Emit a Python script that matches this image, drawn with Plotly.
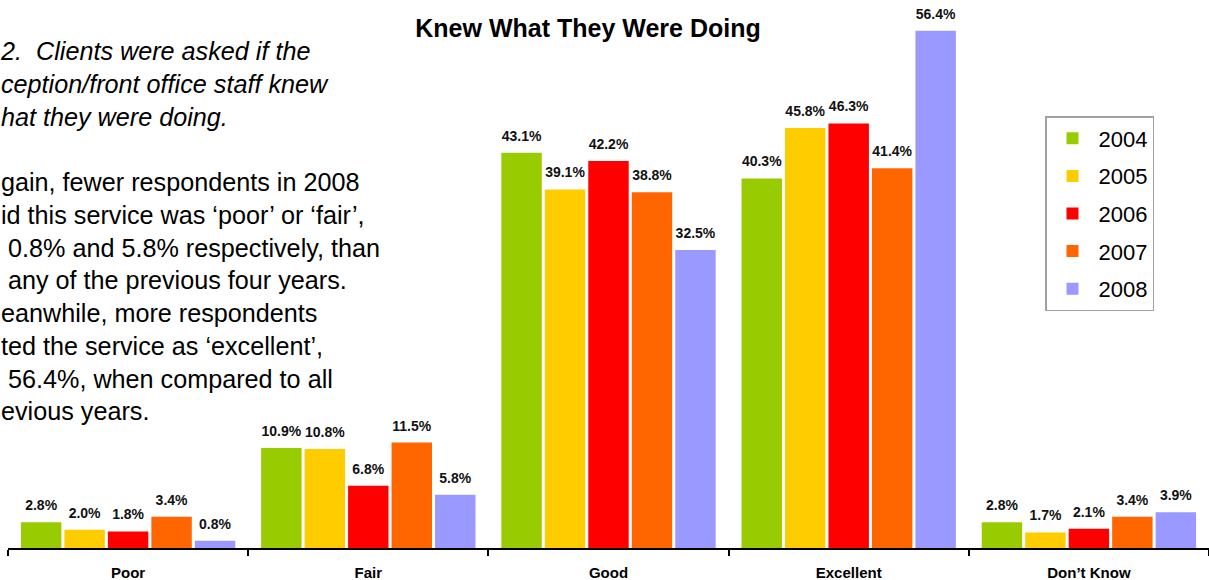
import plotly.graph_objects as go

# Survey ratings for "knew what they were doing", percent of respondents
categories = ["Poor", "Fair", "Good", "Excellent", "Don’t Know"]
years = ["2004", "2005", "2006", "2007", "2008"]
pct_2004 = [2.8, 10.9, 43.1, 40.3, 2.8]
pct_2005 = [2.0, 10.8, 39.1, 45.8, 1.7]
pct_2006 = [1.8, 6.8, 42.2, 46.3, 2.1]
pct_2007 = [3.4, 11.5, 38.8, 41.4, 3.4]
pct_2008 = [0.8, 5.8, 32.5, 56.4, 3.9]
series = [pct_2004, pct_2005, pct_2006, pct_2007, pct_2008]
colors = ["#99CC00", "#FFCC00", "#FF0000", "#FF6600", "#9999FF"]

body_lines = [
    "<i>2.  Clients were asked if the</i>",
    "<i>ception/front office staff knew</i>",
    "<i>hat they were doing.</i>",
    "",
    "gain, fewer respondents in 2008",
    "id this service was ‘poor’ or ‘fair’,",
    "\u00a00.8% and 5.8% respectively, than",
    "\u00a0any of the previous four years.",
    "eanwhile, more respondents",
    "ted the service as ‘excellent’,",
    "\u00a056.4%, when compared to all",
    "evious years.",
]

FONT = "Arial, Liberation Sans, sans-serif"
W, H = 1209, 580
ML, MR, MT, MB = 8, 0, 0, 32
plot_w = W - ML - MR
plot_h = H - MT - MB
GAP = 0.095

fig = go.Figure()
for year, vals, col in zip(years, series, colors):
    fig.add_trace(go.Bar(
        x=categories, y=vals, name=year, legendgroup=year,
        marker=dict(color=col, line=dict(width=0)),
    ))

# value labels, grouped the same way as the bars and lifted a little above them
for year, vals in zip(years, series):
    fig.add_trace(go.Scatter(
        x=categories, y=vals, mode="markers+text", showlegend=False, hoverinfo="skip",
        legendgroup=year, cliponaxis=False,
        marker=dict(size=12, color="rgba(0,0,0,0)"),
        text=[f"{v:.1f}%" for v in vals], textposition="top center",
        textfont=dict(family=FONT, size=14, color="#111111", weight="bold"),
    ))

fig.add_annotation(
    text="<br>".join(body_lines), showarrow=False, align="left",
    xref="paper", yref="paper", xanchor="left", yanchor="top",
    x=-(ML + 2) / plot_w, y=1 - 35 / plot_h,
    font=dict(family=FONT, size=25.2, color="#000000"),
)

fig.update_layout(
    width=W, height=H,
    margin=dict(l=ML, r=MR, t=MT, b=MB),
    paper_bgcolor="white", plot_bgcolor="white",
    barmode="group", bargap=GAP, bargroupgap=0.07,
    scattermode="group", scattergap=GAP,
    title=dict(text="<b>Knew What They Were Doing</b>", xref="container", yref="container",
               x=588 / W, y=1 - 28 / H, xanchor="center", yanchor="middle",
               font=dict(family=FONT, size=25, color="#000000")),
    legend=dict(
        x=(1045 - ML) / plot_w, y=1 - 116 / plot_h, xanchor="left", yanchor="top",
        bgcolor="white", bordercolor="#A0A0A0", borderwidth=1.5,
        font=dict(family=FONT, size=22, color="#000000"),
        tracegroupgap=6, traceorder="grouped", itemwidth=42,
        entrywidth=77, entrywidthmode="pixels",
    ),
    xaxis=dict(
        showline=True, linecolor="#000000", linewidth=1.5,
        ticks="outside", tickson="boundaries", ticklen=6, tickcolor="#000000", tickwidth=1.5,
        tickfont=dict(family=FONT, size=15, color="#000000", weight="bold"),
        ticklabelstandoff=10, showgrid=False,
    ),
    yaxis=dict(range=[0, 59.76], visible=False, showgrid=False),
)

fig.write_html("out.html")
